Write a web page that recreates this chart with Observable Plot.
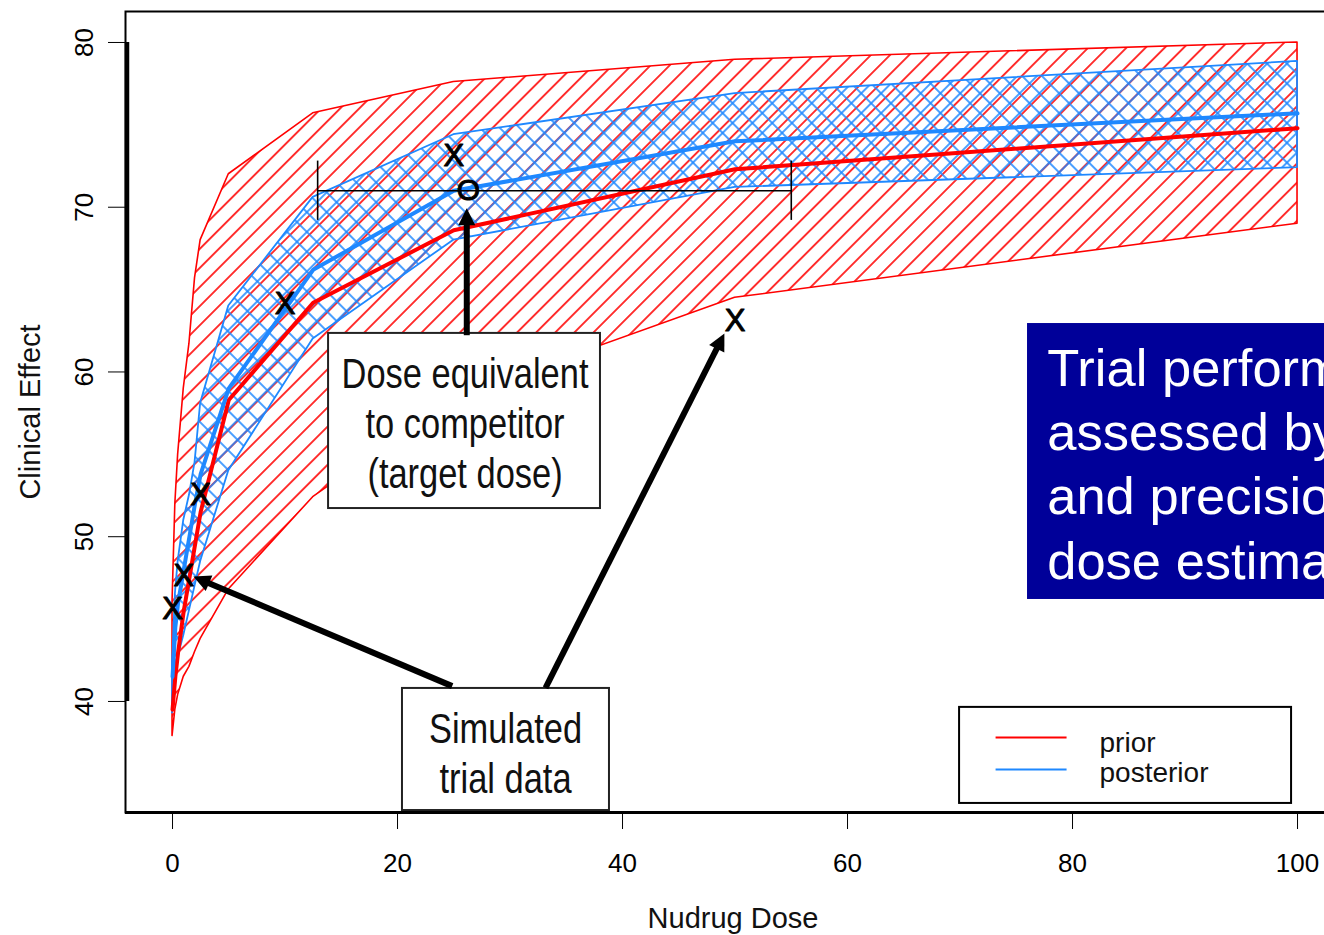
<!DOCTYPE html>
<html>
<head>
<meta charset="utf-8">
<script src="https://cdn.jsdelivr.net/npm/d3@7"></script>
<script src="https://cdn.jsdelivr.net/npm/@observablehq/plot@0.6"></script>
<style>
  html, body { margin: 0; padding: 0; overflow: hidden; background: #fff; }
  #chart { width: 1340px; }
</style>
</head>
<body>
<div id="chart"></div>
<script>
// ---------- data ----------
const doses        = [0,    0.25, 0.5,  1,    1.5,  2,    2.5,  5,    12.5, 25,   50,    100];
const priorUpper   = [46.0, 52.0, 55.0, 59.0, 61.7, 65.7, 68.0, 72.0, 75.7, 77.6, 78.95, 80.0];
const priorLower   = [37.9, 39.5, 40.4, 41.5, 42.1, 43.0, 43.8, 46.8, 52.4, 58.4, 64.5,  69.0];
const priorMedian  = [39.5, 41.5, 43.0, 45.5, 47.5, 49.5, 51.5, 58.3, 64.2, 68.6, 72.3,  74.8];
const postUpper    = [42.2, 46.5, 48.5, 51.0, 52.5, 54.5, 58.1, 64.0, 70.6, 74.4, 76.9,  78.85];
const postLower    = [39.3, 41.5, 42.7, 44.0, 45.5, 47.0, 48.5, 54.0, 62.0, 68.0, 71.2,  72.4];
const postMedian   = [41.5, 44.5, 46.0, 48.0, 50.0, 52.0, 53.8, 59.0, 66.2, 71.0, 74.0,  75.7];

const obsDose   = [0,    1,    2.5,  10,   25,   50];
const obsEffect = [45.6, 47.6, 52.5, 64.1, 73.1, 63.1];

const targetDose = [26.3];
const targetEffect = [71.0];
const targetCI = [12.9, 55.0];

const xTicks = [0, 20, 40, 60, 80, 100];
const yTicks = [40, 50, 60, 70, 80];
const legendLabels = ["prior", "posterior"];

// ---------- annotation placement (data units) ----------
const xDomain = [-4.18, 103.82];
const yDomain = [33.26, 81.88];
const calloutBoxes = [
  {x1: 13.87, x2: 38.04, y1: 51.71, y2: 62.34, cx: 26.0, cy: 56.96, text: "Dose equivalent\nto competitor\n(target dose)"},
  {x1: 20.44, x2: 38.84, y1: 33.38, y2: 40.79, cx: 29.6, cy: 36.95, text: "Simulated\ntrial data"}
];
const noteBox = {x1: 76.0, x2: 112, y1: 46.19, y2: 62.94, tx: 77.75, ty: 54.55,
  text: "Trial performance\nassessed by bias\nand precision of\ndose estimate"};
const arrows = [
  {x1: 26.2, y1: 62.2, x2: 26.2, y2: 69.9},
  {x1: 24.9, y1: 40.9, x2: 1.9,  y2: 47.55},
  {x1: 33.2, y1: 40.8, x2: 49.1, y2: 62.3}
];
const legendBox = {x1: 69.96, x2: 99.47, y1: 33.81, y2: 39.64};
const legendRows = [
  {lx1: 73.16, lx2: 79.47, ly: 37.82, tx: 82.4, ty: 37.47},
  {lx1: 73.16, lx2: 79.47, ly: 35.87, tx: 82.4, ty: 35.65}
];

// ---------- styles ----------
const RED = "#ff0000";
const BLUE = "#1e88ff";
const NAVY = "#000099";
const sans = "'Liberation Sans', Arial, Helvetica, sans-serif";

function hatchDefs() {
  const ns = "http://www.w3.org/2000/svg";
  const defs = document.createElementNS(ns, "defs");
  defs.innerHTML =
    `<pattern id="priorHatch" patternUnits="userSpaceOnUse" width="13.5" height="13.5" patternTransform="rotate(45)">
       <line x1="6.75" y1="-1" x2="6.75" y2="15" stroke="${RED}" stroke-width="1.6"/>
     </pattern>
     <pattern id="postHatch" patternUnits="userSpaceOnUse" width="14" height="14" patternTransform="rotate(45)">
       <line x1="3" y1="-1" x2="3" y2="15" stroke="${BLUE}" stroke-width="1.6"/>
       <line x1="-1" y1="3" x2="15" y2="3" stroke="${BLUE}" stroke-width="1.6"/>
     </pattern>`;
  return defs;
}

function arrowMark(...args) {
  const scales = args.find(a => a && typeof a.x === "function" && typeof a.y === "function");
  const ns = "http://www.w3.org/2000/svg";
  const g = document.createElementNS(ns, "g");
  const HL = 17, HW = 17;
  for (const a of arrows) {
    const X1 = scales.x(a.x1), Y1 = scales.y(a.y1), X2 = scales.x(a.x2), Y2 = scales.y(a.y2);
    const dx = X2 - X1, dy = Y2 - Y1, L = Math.hypot(dx, dy), ux = dx / L, uy = dy / L;
    const bx = X2 - ux * HL, by = Y2 - uy * HL;
    const line = document.createElementNS(ns, "line");
    line.setAttribute("x1", X1); line.setAttribute("y1", Y1);
    line.setAttribute("x2", bx + ux * 2); line.setAttribute("y2", by + uy * 2);
    line.setAttribute("stroke", "#000"); line.setAttribute("stroke-width", 6);
    g.appendChild(line);
    const head = document.createElementNS(ns, "polygon");
    head.setAttribute("points", [
      [X2, Y2], [bx - uy * HW / 2, by + ux * HW / 2], [bx + uy * HW / 2, by - ux * HW / 2]
    ].map(p => p.join(",")).join(" "));
    head.setAttribute("fill", "#000");
    g.appendChild(head);
  }
  return g;
}

const plot = Plot.plot({
  width: 1340,
  height: 935,
  marginLeft: 125,
  marginRight: 0,
  marginTop: 11,
  marginBottom: 123,
  style: {fontFamily: sans, fontSize: "26px", background: "white", color: "black"},
  x: {domain: xDomain, ticks: xTicks, tickSize: 17, tickPadding: 24, label: null},
  y: {domain: yDomain, ticks: yTicks, tickSize: 17, tickPadding: 16, tickRotate: -90, label: null},
  marks: [
    hatchDefs,
    // prior band
    Plot.areaY(doses, {x: doses, y1: priorLower, y2: priorUpper, fill: "url(#priorHatch)", stroke: RED, strokeWidth: 1.6}),
    // posterior band
    Plot.areaY(doses, {x: doses, y1: postLower, y2: postUpper, fill: "url(#postHatch)", stroke: BLUE, strokeWidth: 1.8}),
    // medians
    Plot.line(doses, {x: doses, y: priorMedian, stroke: RED, strokeWidth: 4}),
    Plot.line(doses, {x: doses, y: postMedian, stroke: BLUE, strokeWidth: 4}),
    // target dose interval
    Plot.link([0], {x1: targetCI[0], x2: targetCI[1], y1: targetEffect[0], y2: targetEffect[0], stroke: "black", strokeWidth: 1.6}),
    Plot.ruleX(targetCI, {y1: targetEffect[0] - 1.8, y2: targetEffect[0] + 1.8, stroke: "black", strokeWidth: 1.6}),
    Plot.text(targetDose, {x: targetDose, y: targetEffect, text: () => "O", fontSize: 30, fontFamily: sans, fill: "black", stroke: "black", strokeWidth: 1}),
    // simulated data
    Plot.text(obsDose, {x: obsDose, y: obsEffect, text: () => "X", fontSize: 31, fontFamily: sans, fill: "black", stroke: "black", strokeWidth: 1}),
    // callout boxes
    Plot.rect(calloutBoxes, {x1: "x1", x2: "x2", y1: "y1", y2: "y2", fill: "white", stroke: "#222", strokeWidth: 2}),
    Plot.text(calloutBoxes, {x: "cx", y: "cy", text: "text", fontSize: 42, lineHeight: 1.19, fontFamily: sans, fill: "#111"}),
    arrowMark,
    // note box
    Plot.rect([noteBox], {x1: "x1", x2: "x2", y1: "y1", y2: "y2", fill: NAVY}),
    Plot.text([noteBox], {x: "tx", y: "ty", text: "text", textAnchor: "start", fontSize: 52.5, lineHeight: 1.225, fontFamily: sans, fill: "white"}),
    // legend
    Plot.rect([legendBox], {x1: "x1", x2: "x2", y1: "y1", y2: "y2", fill: "white", stroke: "black", strokeWidth: 2}),
    Plot.link(legendRows, {x1: "lx1", x2: "lx2", y1: "ly", y2: "ly", stroke: (d, i) => [RED, BLUE][i], strokeWidth: 2}),
    Plot.text(legendRows, {x: "tx", y: "ty", text: (d, i) => legendLabels[i], textAnchor: "start", fontSize: 28, fontFamily: sans, fill: "#111"}),
    // frame and axis lines
    Plot.frame({stroke: "black", strokeWidth: 2}),
    Plot.ruleY([yDomain[0]], {stroke: "black", strokeWidth: 3}),
    Plot.ruleX([xDomain[0]], {y1: yTicks[0], y2: yTicks[yTicks.length - 1], stroke: "black", strokeWidth: 4.5, dx: 1.5}),
    // axis titles
    Plot.text(["Nudrug Dose"], {frameAnchor: "bottom", text: d => d, dy: 106, lineAnchor: "middle", textAnchor: "middle", fontSize: 29, fontFamily: sans, fill: "#111"}),
    Plot.text(["Clinical Effect"], {frameAnchor: "left", text: d => d, dx: -95, rotate: -90, textAnchor: "middle", lineAnchor: "middle", fontSize: 29, fontFamily: sans, fill: "#111"})
  ]
});

// condensed lettering for the callout boxes (Arial Narrow look)
plot.querySelectorAll('g[font-size="42"] text').forEach(t => {
  const tr = t.getAttribute("transform") || "";
  t.setAttribute("transform", (tr + " scale(0.82,1)").trim());
});

document.getElementById("chart").appendChild(plot);
</script>
</body>
</html>
